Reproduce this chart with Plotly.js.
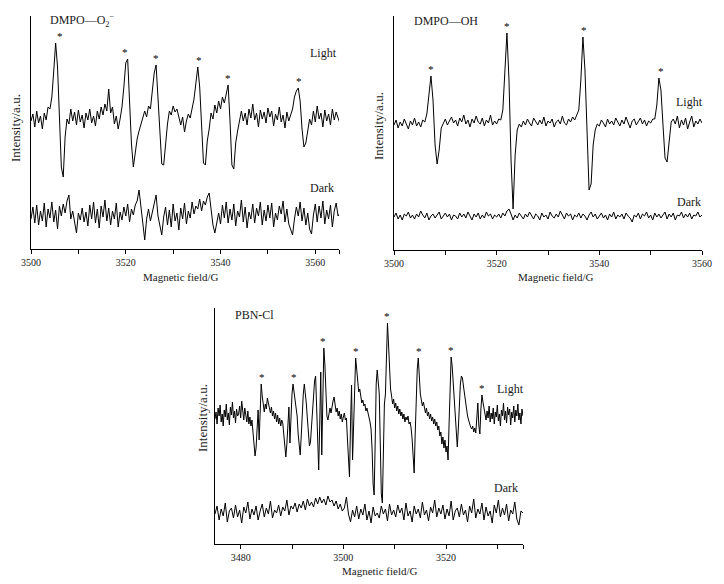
<!DOCTYPE html>
<html><head><meta charset="utf-8">
<script src="https://cdn.plot.ly/plotly-3.0.1.min.js"></script>
<style>html,body{margin:0;padding:0;background:#fff}#chart{width:724px;height:584px}</style>
</head><body><div id="chart"></div>
<script>
// ---------- Panel 1: DMPO-O2·− (field start / step in G) ----------
const o2Start = 3500, o2Step = 0.4;
const o2Light = [
128,135,122,138,126,133,120,136,129,142,
140,152,178,206,182,130,82,72,112,130,
125,140,128,137,124,139,127,134,121,136,
129,140,126,133,123,138,130,142,134,145,
138,160,136,142,125,133,120,130,142,162,
186,190,150,105,82,96,110,118,124,130,
138,132,143,140,160,176,184,152,110,85,
84,108,125,138,134,143,137,140,130,124,
132,117,128,135,131,142,150,166,182,162,
116,86,84,108,120,136,130,144,136,148,
140,152,146,154,164,128,84,80,106,118,
127,138,128,136,124,140,131,145,129,136,
122,139,130,137,126,141,132,138,123,135,
129,142,127,134,121,137,128,135,140,152,
158,161,148,120,102,106,118,130,124,138,
127,143,130,136,122,139,128,135,124,140,
129,137,131,126];
const o2Dark = [
30,42,26,44,24,38,28,46,22,40,
31,47,27,39,20,43,33,45,36,48,
54,30,38,25,16,36,29,41,27,37,
23,44,30,47,26,40,21,43,32,49,
28,41,24,38,30,46,22,37,29,42,
33,45,27,40,34,44,48,59,42,26,
9,30,40,28,37,44,54,33,25,14,
32,42,24,39,22,45,28,36,19,41,
30,46,25,38,31,47,35,43,40,50,
38,48,44,52,56,40,24,16,28,36,
25,44,31,47,26,40,29,45,23,38,
32,49,27,42,21,37,30,45,26,41,
33,47,24,39,28,44,31,46,22,36,
29,43,35,48,27,40,25,19,14,30,
42,33,47,28,41,24,36,20,15,34,
45,27,43,31,48,25,39,30,44,22,
38,46,33,36];
const o2Stars = [3506.1, 3519.9, 3526.4, 3535.5, 3541.6, 3556.6];
const o2Range = [3500, 3565];
const o2TickVals = [3500, 3520, 3540, 3560];
const o2TickText = ['3500', '3520', '3540', '3560'];
const o2MinorVals = [3510, 3530, 3550, 3565];

// ---------- Panel 2: DMPO-OH ----------
const ohStart = 3500, ohStep = 0.4;
const ohLight = [
125,130,122,128,124,131,126,121,129,125,
132,124,128,123,130,128,136,158,174,150,
105,86,100,122,126,131,125,129,133,127,
130,124,132,128,135,126,130,123,131,127,
134,128,126,132,124,130,127,135,125,129,
126,131,130,140,185,217,170,90,41,95,
120,126,123,129,125,131,127,124,132,128,
125,130,126,133,124,129,127,131,123,128,
130,126,134,127,125,131,128,133,130,135,
140,170,213,180,120,60,66,105,120,126,
124,130,127,123,131,126,129,125,132,128,
124,130,126,133,127,122,129,131,125,128,
132,126,130,124,129,127,131,131,145,172,
160,125,92,88,112,128,131,126,134,122,
130,125,132,121,128,134,123,129,126,131,
127];
const ohDark = [
33,37,31,35,30,36,34,38,32,35,
31,36,33,39,35,32,37,30,34,36,
32,35,38,31,34,37,33,36,30,35,
34,31,37,33,36,32,38,34,30,36,
33,37,31,35,32,38,34,36,31,35,
33,36,32,37,34,39,41,36,30,35,
32,37,34,31,36,33,38,35,31,36,
34,30,37,33,35,31,38,34,32,36,
33,39,35,31,37,34,36,30,35,33,
37,32,36,34,30,35,38,33,36,31,
34,37,32,35,30,36,33,38,31,35,
33,36,31,37,34,32,28,35,33,37,
31,36,34,38,32,35,30,37,33,36,
32,35,38,31,36,33,37,30,35,34,
38,32,36,33,37,31,35,34,38,33,
35];
const ohStars = [3507.2, 3522.0, 3537.1, 3552.0];
const ohRange = [3500, 3560];
const ohTickVals = [3500, 3520, 3540, 3560];
const ohTickText = ['3500', '3520', '3540', '3560'];
const ohMinorVals = [3510, 3530, 3550];

// ---------- Panel 3: PBN-Cl ----------
const pbnLightStart = 3475, pbnLightStep = 0.2;
const pbnLight = [
125,132,120,136,128,139,122,130,118,134,
127,140,124,131,119,137,129,142,126,133,
121,135,128,130,138,126,143,131,124,136,
129,122,133,120,127,118,124,112,100,88,
96,125,134,104,140,160,148,138,132,140,
135,146,142,136,131,137,128,133,125,131,
122,129,120,126,118,124,121,110,98,87,
100,125,137,101,128,150,160,152,145,140,
128,110,95,89,108,135,150,160,152,140,
125,108,98,102,118,135,150,163,168,130,
95,74,120,172,89,140,196,180,150,128,
124,130,136,131,140,143,147,139,132,136,
128,133,125,130,122,127,131,124,126,105,
80,67,120,159,84,120,165,186,175,160,
152,155,146,141,144,138,140,133,136,132,
128,122,115,95,60,49,100,160,174,162,
150,100,50,41,105,140,150,190,221,200,
170,155,148,140,145,136,141,133,138,130,
135,128,132,125,130,122,127,124,128,120,
122,116,105,80,71,110,150,175,186,165,
150,144,138,142,134,131,136,128,132,125,
130,123,127,120,125,118,122,114,118,108,
112,100,107,96,104,92,98,84,120,160,
187,178,160,148,125,105,97,115,140,160,
168,166,158,150,140,134,128,124,120,117,
115,118,112,116,111,122,141,118,110,135,
149,142,136,130,124,133,126,138,122,131,
125,136,120,132,127,139,123,130,118,134,
128,141,124,133,121,137,129,135,119,132,
126,138,122,134,128,140,124,131,120,135,
128];
const pbnDarkStart = 3475, pbnDarkStep = 0.4;
const pbnDark = [
30,38,24,35,28,41,22,33,36,26,
39,27,34,21,37,31,42,25,35,29,
38,24,33,40,27,36,30,43,26,34,
31,39,28,37,33,44,29,38,35,41,
32,40,36,43,34,45,38,42,37,46,
40,47,41,45,39,48,42,44,38,43,
35,40,33,36,47,30,22,34,27,38,
25,35,29,40,24,33,21,37,28,31,
26,38,30,35,23,40,29,34,27,39,
31,36,24,41,28,33,22,38,30,35,
26,42,29,34,23,37,31,44,27,36,
30,39,25,35,28,43,24,33,36,27,
40,29,34,22,38,31,45,26,35,30,
41,24,37,28,33,21,39,31,44,27,
36,29,40,23,34,30,42,25,19,33,
31];
const pbnStars = [3484.2, 3490.4, 3496.1, 3502.5, 3508.5, 3514.7, 3521.0, 3527.0];
const pbnRange = [3475, 3535];
const pbnTickVals = [3480, 3500, 3520];
const pbnTickText = ['3480', '3500', '3520'];
const pbnMinorVals = [3490, 3510, 3530, 3535];

// ---------- Text ----------
const xTitle = 'Magnetic field/G';
const yTitle = 'Intensity/a.u.';
const lightLabel = 'Light', darkLabel = 'Dark';
const panelNames = ['DMPO—O<sub>2</sub><sup>−</sup>', 'DMPO—OH', 'PBN-Cl'];

// ---------- Build ----------
const W = 724, H = 584;
const FONT = 'Liberation Serif, Times New Roman, serif';
const TXT = '#1a1a1a';
const px = v => v / W, py = v => 1 - v / H;

function line(y, x0, dx, xa, ya) {
  return {type: 'scatter', mode: 'lines', y: y, x0: x0, dx: dx, xaxis: xa, yaxis: ya,
          line: {color: '#000', width: 1}, hoverinfo: 'skip'};
}
const data = [
  line(o2Light, o2Start, o2Step, 'x', 'y'),
  line(o2Dark, o2Start, o2Step, 'x', 'y'),
  line(ohLight, ohStart, ohStep, 'x2', 'y2'),
  line(ohDark, ohStart, ohStep, 'x2', 'y2'),
  line(pbnLight, pbnLightStart, pbnLightStep, 'x3', 'y3'),
  line(pbnDark, pbnDarkStart, pbnDarkStep, 'x3', 'y3')
];

function xAxis(range, tv, tt, mv, dom, anchor) {
  return {range: range, domain: dom, anchor: anchor, showline: true, linecolor: '#000', linewidth: 1,
          ticks: 'outside', ticklen: 4, tickwidth: 1, tickcolor: '#000', tickmode: 'array',
          tickvals: tv, ticktext: tt,
          minor: {tickmode: 'array', tickvals: mv, ticks: 'outside', ticklen: 4, tickwidth: 1, tickcolor: '#000', showgrid: false},
          tickfont: {family: FONT, size: 10, color: TXT}, showgrid: false, zeroline: false, fixedrange: true};
}
function yAxis(top, dom, anchor) {
  return {range: [0, top], domain: dom, anchor: anchor, showline: true, linecolor: '#000', linewidth: 1,
          ticks: 'inside', ticklen: 9, tickwidth: 1, tickcolor: '#000', tickmode: 'array', tickvals: [top],
          showticklabels: false, showgrid: false, zeroline: false, fixedrange: true};
}

const ann = [];
function text(t, x, y, opts) {
  ann.push(Object.assign({text: t, x: px(x), y: py(y), xref: 'paper', yref: 'paper', showarrow: false,
    xanchor: 'left', yanchor: 'middle', font: {family: FONT, size: 12, color: TXT}}, opts || {}));
}
function stars(list, arr, x0, dx, win, xr, yr) {
  list.forEach(g => {
    let m = -Infinity;
    arr.forEach((v, i) => { if (Math.abs(x0 + i * dx - g) <= win && v > m) m = v; });
    ann.push({text: '*', x: g, y: m, xref: xr, yref: yr, showarrow: false, xanchor: 'center',
      yanchor: 'bottom', yshift: -1, font: {family: FONT, size: 11, color: '#000'}});
  });
}
stars(o2Stars, o2Light, o2Start, o2Step, 1.0, 'x', 'y');
stars(ohStars, ohLight, ohStart, ohStep, 1.0, 'x2', 'y2');
stars(pbnStars, pbnLight, pbnLightStart, pbnLightStep, 0.5, 'x3', 'y3');

// panel names and Light/Dark labels
text(panelNames[0], 48, 21);
text(panelNames[1], 412, 21);
text(panelNames[2], 233, 315);
text(lightLabel, 308, 53); text(darkLabel, 308, 188);
text(lightLabel, 674, 102); text(darkLabel, 675, 202);
text(lightLabel, 495, 389); text(darkLabel, 492, 488);
// axis titles
text(xTitle, 181, 277, {xanchor: 'center', font: {family: FONT, size: 11, color: TXT}});
text(xTitle, 556, 277, {xanchor: 'center', font: {family: FONT, size: 11, color: TXT}});
text(xTitle, 380, 571, {xanchor: 'center', font: {family: FONT, size: 11, color: TXT}});
text(yTitle, 15, 128, {xanchor: 'center', textangle: -90, font: {family: FONT, size: 13, color: TXT}});
text(yTitle, 379, 126, {xanchor: 'center', textangle: -90, font: {family: FONT, size: 13, color: TXT}});
text(yTitle, 202, 418, {xanchor: 'center', textangle: -90, font: {family: FONT, size: 13, color: TXT}});

const layout = {
  width: W, height: H, margin: {l: 0, r: 0, t: 0, b: 0},
  paper_bgcolor: '#fff', plot_bgcolor: '#fff', showlegend: false,
  xaxis: xAxis(o2Range, o2TickVals, o2TickText, o2MinorVals, [px(31), px(339)], 'y'),
  yaxis: yAxis(233, [py(249), py(16)], 'x'),
  xaxis2: xAxis(ohRange, ohTickVals, ohTickText, ohMinorVals, [px(394), px(702)], 'y2'),
  yaxis2: yAxis(234, [py(250), py(16)], 'x2'),
  xaxis3: xAxis(pbnRange, pbnTickVals, pbnTickText, pbnMinorVals, [px(215), px(523)], 'y3'),
  yaxis3: yAxis(236, [py(544), py(308)], 'x3'),
  annotations: ann
};
Plotly.newPlot('chart', data, layout, {displayModeBar: false, staticPlot: true});
</script>
</body></html>
